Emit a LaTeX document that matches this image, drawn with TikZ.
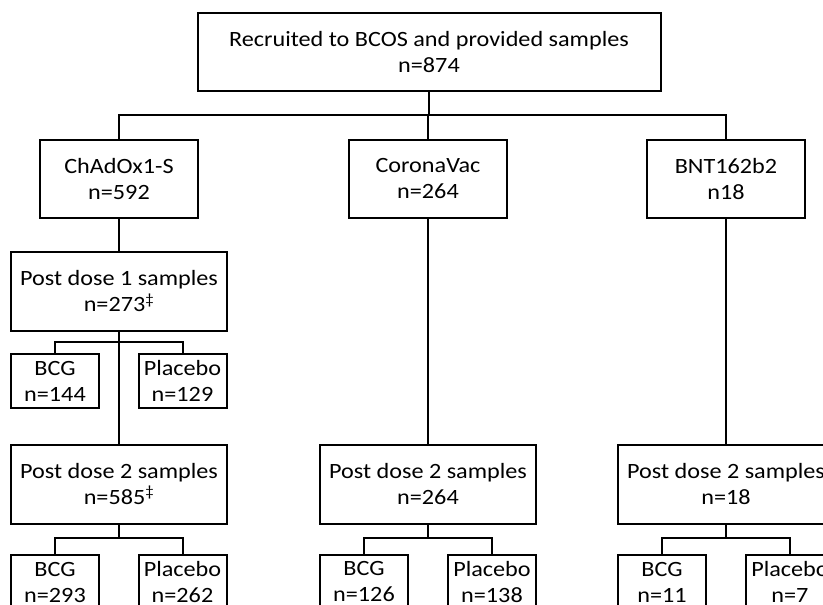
\documentclass[tikz,border=0pt]{standalone}
\usepackage{fontspec}
\setmainfont{Carlito}[FakeStretch=1.11]
\usepackage{tikz}
\newcommand{\dagmark}[0]{\textsuperscript{‡}}
\tikzset{
  box/.style={draw, line width=2pt, align=center, inner sep=0pt,
    font=\fontsize{21.8}{26}\selectfont},
  bigbox/.style={box, minimum width=463pt, minimum height=78pt},
  vacbox/.style={box, minimum width=158pt, minimum height=78pt},
  dosebox/.style={box, minimum width=216pt, minimum height=79pt},
  armbox/.style={box, minimum width=88pt, minimum height=54pt},
  link/.style={line width=2pt}
}

\begin{document}
\begin{tikzpicture}[x=1pt, y=-1pt]
\useasboundingbox (0,0) rectangle (823,605);
\clip (0,0) rectangle (823,605);
% boxes
\node[bigbox] (recruit) at (429,52) {Recruited to BCOS and provided samples\\n=874};
\node[vacbox] (chad) at (119,179) {ChAdOx1-S\\n=592};
\node[vacbox] (corona) at (428,179) {CoronaVac\\n=264};
\node[vacbox] (bnt) at (726,179) {BNT162b2\\n18};
\node[dosebox] (chadone) at (119,291.5) {Post dose 1 samples\\n=273\dagmark};
\node[armbox] (chadonebcg) at (55,381) {BCG\\n=144};
\node[armbox] (chadonepla) at (182.5,381) {Placebo\\n=129};
\node[dosebox] (chadtwo) at (119,484) {Post dose 2 samples\\n=585\dagmark};
\node[dosebox] (coronatwo) at (428,484) {Post dose 2 samples\\n=264};
\node[dosebox] (bnttwo) at (726,484) {Post dose 2 samples\\n=18};
\node[armbox] (chadtwobcg) at (55,582) {BCG\\n=293};
\node[armbox] (chadtwopla) at (182.5,582) {Placebo\\n=262};
\node[armbox] (coronatwobcg) at (364,582) {BCG\\n=126};
\node[armbox] (coronatwopla) at (492,582) {Placebo\\n=138};
\node[armbox] (bnttwobcg) at (662,582) {BCG\\n=11};
\node[armbox] (bnttwopla) at (790,582) {Placebo\\n=7};
% branch points
\coordinate (split) at (429,116);
\coordinate (chadtwosplit) at (119,539);
\coordinate (coronatwosplit) at (428,539);
\coordinate (bnttwosplit) at (726,539);
% connectors
\draw[link] (recruit.south) -- (split);
\draw[link] (chad.north) -- ++(0,-24) -| (bnt.north);
\draw[link] (split) -- (split -| corona.north) -- (corona.north);
\draw[link] (chad.south) -- (chadone.north);
\draw[link] (chadone.south) -- (chadtwo.north);
\draw[link] (corona.south) -- (coronatwo.north);
\draw[link] (bnt.south) -- (bnttwo.north);
\draw[link] (chadonebcg.north) -- ++(0,-11) -| (chadonepla.north);
\draw[link] (chadtwo.south) -- (chadtwosplit);
\draw[link] (chadtwobcg.north) -- ++(0,-16) -| (chadtwopla.north);
\draw[link] (coronatwo.south) -- (coronatwosplit);
\draw[link] (coronatwobcg.north) -- ++(0,-16) -| (coronatwopla.north);
\draw[link] (bnttwo.south) -- (bnttwosplit);
\draw[link] (bnttwobcg.north) -- ++(0,-16) -| (bnttwopla.north);
\end{tikzpicture}
\end{document}
